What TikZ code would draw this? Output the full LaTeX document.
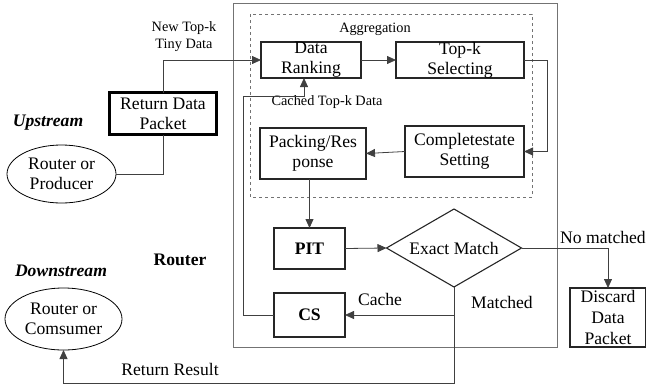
\documentclass[tikz,border=0pt]{standalone}
\usepackage{fontspec}
\setmainfont{Liberation Serif}
\usetikzlibrary{arrows.meta,shapes.geometric}
\begin{document}
\begin{tikzpicture}[x=1pt,y={(0pt,-1pt)},
  every node/.style={inner sep=0pt, outer sep=0pt},
  big/.style={font=\fontsize{17.6}{20}\selectfont},
  small/.style={font=\fontsize{14.3}{17}\selectfont},
  boxnode/.style={draw=black!85, line width=1.1pt, big, align=center},
  ln/.style={draw=black!75, line width=0.8pt},
  arr/.style={ln, -{Triangle[length=9pt,width=8pt]}}]
\useasboundingbox (0,0) rectangle (646,389);
% frames
\draw[black!55, line width=0.8pt] (233,3) rectangle (557,347);
\draw[black!55, dashed, line width=0.6pt] (250,14) rectangle (532,197);
% nodes
\node[boxnode, minimum width=100pt, minimum height=36pt] (dr) at (311,60) {Data\\Ranking};
\node[boxnode, minimum width=128pt, minimum height=36pt] (ts) at (460,60) {Top-k\\Selecting};
\node[boxnode, minimum width=119pt, minimum height=51pt] (comp) at (464.5,151.5) {Completestate\\Setting};
\node[boxnode, minimum width=106pt, minimum height=51pt] (pack) at (313,153.5) {Packing/Res\\ponse};
\node[boxnode, minimum width=71pt, minimum height=41pt, font=\fontsize{17.6}{20}\selectfont\bfseries] (pit) at (309.5,248.5) {PIT};
\node[boxnode, minimum width=71pt, minimum height=44pt, font=\fontsize{17.6}{20}\selectfont\bfseries] (cs) at (309.5,315) {CS};
\node[draw=black!85, line width=1.1pt, big, diamond, aspect=1.73, minimum width=135pt, minimum height=78pt] (dm) at (454,248) {Exact Match};
\node[boxnode, minimum width=76pt, minimum height=59pt, font=\fontsize{17.6}{21.3}\selectfont] (disc) at (608,317.5) {Discard\\Data\\Packet};
\node[draw=black, line width=3.5pt, big, align=center, minimum width=107pt, minimum height=42pt] (rdp) at (163,113.5) {Return Data\\Packet};
\node[draw=black, line width=0.8pt, ellipse, big, align=center, minimum width=109pt, minimum height=58pt] (prod) at (61.5,174) {Router or\\Producer};
\node[draw=black, line width=0.8pt, ellipse, big, align=center, minimum width=117pt, minimum height=62pt] (cons) at (63.5,319) {Router or\\Comsumer};
% labels
\node[small, align=center] (lnew) at (184,37) {New Top-k\\Tiny Data};
\node[small] (lagg) at (375,29) {Aggregation};
\node[small] (lcached) at (327,102) {Cached Top-k Data};
\node[big] (lno) at (603,237) {No matched};
\node[big] (lcache) at (380,299) {Cache};
\node[big] (lmatch) at (502,302) {Matched};
\node[big] (lret) at (170,369) {Return Result};
\node[big, font=\fontsize{17.6}{20}\selectfont\bfseries\itshape] (lup) at (48,123) {Upstream};
\node[big, font=\fontsize{17.6}{20}\selectfont\bfseries\itshape] (ldown) at (61,271) {Downstream};
\node[big, font=\fontsize{17.6}{20}\selectfont\bfseries] (lrouter) at (180,260) {Router};
% coordinates
\coordinate (ck) at (304,96);
\coordinate (bot) at (454,383);
% connectors
\draw[ln] (prod.east) -| (rdp.south);
\draw[arr] (rdp.north) |- (dr.west);
\draw[arr] (dr.east) -- (ts.west);
\draw[arr] (ts.east) -- ++(23,0) |- (comp.east);
\draw[arr] (comp.west) -- (pack.east);
\draw[arr] (pit.north |- pack.south) -- (pit.north);
\draw[arr] (pit.east) -- (dm.west);
\draw[arr] (dm.east) -| (disc.north);
\draw[arr] (dm.south) -- (bot) -| (cons.south);
\draw[arr] (dm.south |- cs.east) -- (cs.east);
\draw[arr] (cs.west) -- ++(-31,0) |- (ck) -- (ck |- dr.south);
\end{tikzpicture}
\end{document}
